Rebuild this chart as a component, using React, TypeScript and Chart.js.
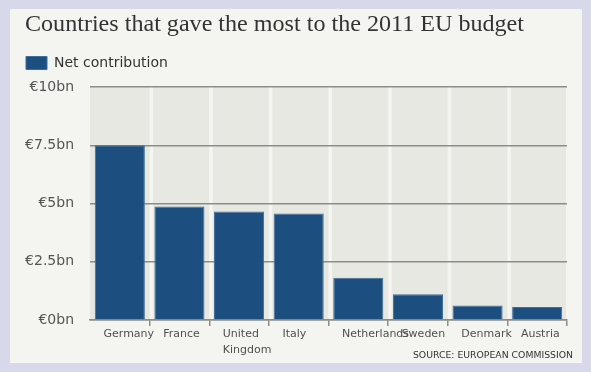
import React, { useEffect, useRef } from "react";
import { Chart, registerables } from "chart.js";

Chart.register(...registerables);

const titleText = "Countries that gave the most to the 2011 EU budget";
const seriesName = "Net contribution";
const sourceText = "SOURCE: EUROPEAN COMMISSION";
const categories: (string | string[])[] = [
  "Germany",
  "France",
  ["United", "Kingdom"],
  "Italy",
  "Netherlands",
  "Sweden",
  "Denmark",
  "Austria",
];
const netContribution = [7.5, 4.87, 4.66, 4.57, 1.82, 1.11, 0.63, 0.56];
const yTickValues = [0, 2.5, 5, 7.5, 10];
const yTickLabels = ["€0bn", "€2.5bn", "€5bn", "€7.5bn", "€10bn"];

const W = 591;
const H = 372;

const backgroundPlugin = {
  id: "panelBackground",
  beforeDraw(chart: any) {
    const { ctx, chartArea, scales } = chart;
    ctx.save();
    ctx.fillStyle = "#d8d8eb";
    ctx.fillRect(0, 0, W, H);
    ctx.fillStyle = "#f4f4f0";
    ctx.fillRect(10, 9, 572, 354);
    const x = scales.x;
    const n = categories.length;
    const step = (chartArea.right - chartArea.left) / n;
    ctx.fillStyle = "#e8e8e3";
    for (let i = 0; i < n; i++) {
      const c = x.getPixelForValue(i);
      const l = c - step / 2 + (i > 0 ? 3.5 : 0);
      const r = c + step / 2 - (i === n - 1 ? 1 : 0);
      ctx.fillRect(l, chartArea.top, r - l, chartArea.bottom - chartArea.top);
    }
    ctx.restore();
  },
  afterDraw(chart: any) {
    const { ctx } = chart;
    ctx.save();
    ctx.fillStyle = "#333333";
    ctx.font = "9.3px 'DejaVu Sans'";
    ctx.textAlign = "right";
    ctx.textBaseline = "alphabetic";
    ctx.fillText(sourceText, 573, 357.5);
    ctx.restore();
  },
};

export default function App() {
  const ref = useRef<HTMLCanvasElement | null>(null);
  useEffect(() => {
    if (!ref.current) return;
    const chart = new Chart(ref.current, {
      type: "bar",
      data: {
        labels: categories,
        datasets: [
          {
            label: seriesName,
            data: netContribution,
            backgroundColor: "#1c4f80",
            borderColor: "#3d6c99",
            borderWidth: 1,
            borderSkipped: "bottom",
            barPercentage: 0.84,
            categoryPercentage: 1,
          },
        ],
      },
      options: {
        responsive: false,
        animation: false,
        events: [],
        layout: { padding: { left: 25, right: 24, top: 0, bottom: 14 } },
        plugins: {
          title: {
            display: true,
            text: titleText,
            align: "start",
            color: "#333333",
            font: { family: "'Liberation Serif'", size: 24.1, weight: "normal", lineHeight: 1.2 },
            padding: { top: 10.3, bottom: 15.8 },
          },
          subtitle: {
            display: true,
            text: "",
            weight: 500,
            font: { size: 1, lineHeight: 1 },
            padding: { top: 0, bottom: 6 },
          },
          legend: {
            display: true,
            align: "start",
            labels: {
              boxWidth: 21,
              boxHeight: 13,
              color: "#333333",
              font: { family: "'DejaVu Sans'", size: 14 },
              padding: 1,
            },
          },
          tooltip: { enabled: false },
        },
        scales: {
          x: {
            offset: true,
            afterFit: (axis: any) => {
              axis.paddingLeft = 0;
              axis.paddingRight = 0;
            },
            grid: {
              display: true,
              offset: true,
              drawOnChartArea: false,
              drawTicks: true,
              tickLength: 6,
              lineWidth: 1.5,
              color: (c: any) => (c.index === 0 ? "rgba(0,0,0,0)" : "#8c8c88"),
            },
            border: { display: true, color: "#8c8c88", width: 1.5 },
            ticks: {
              color: "#505050",
              align: "start",
              labelOffset: (c: any) => (c.index === 3 ? -11.5 : -16.3),
              padding: 0,
              autoSkip: false,
              maxRotation: 0,
              font: { family: "'DejaVu Sans'", size: 11, lineHeight: 1.45 },
            },
          },
          y: {
            min: 0,
            max: 10,
            afterBuildTicks: (axis: any) => {
              axis.ticks = yTickValues.map((v) => ({ value: v }));
            },
            afterFit: (axis: any) => {
              axis.width = 65;
            },
            grid: {
              display: true,
              drawTicks: false,
              lineWidth: 1.5,
              color: "#8c8c88",
            },
            border: { display: false },
            ticks: {
              color: "#555555",
              padding: 16,
              font: { family: "'DejaVu Sans'", size: 14 },
              callback: (v: any) => {
                const i = yTickValues.indexOf(Number(v));
                return i >= 0 ? yTickLabels[i] : "";
              },
            },
          },
        },
      },
      plugins: [backgroundPlugin],
    });
    return () => chart.destroy();
  }, []);
  return (
    <div style={{ position: "fixed", left: 0, top: 0, width: W, height: H }}>
      <canvas ref={ref} width={W} height={H} style={{ display: "block", width: W, height: H }} />
    </div>
  );
}
